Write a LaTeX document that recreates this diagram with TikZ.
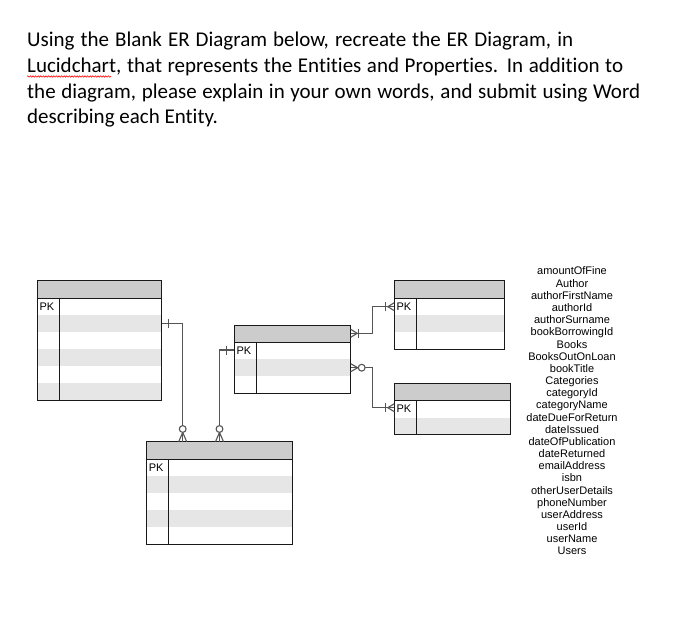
\documentclass[tikz,border=0pt]{standalone}
\usepackage{fontspec}
\setmainfont{Carlito}[Ligatures=NoCommon]
\newfontfamily\arialf{Liberation Sans}
\usetikzlibrary{calc,decorations.pathmorphing}
\definecolor{hdr}{HTML}{CCCCCC}
\definecolor{rowg}{HTML}{E6E6E6}
\definecolor{lnk}{HTML}{555555}
\tikzset{
 tblline/.style={draw=black!90, line width=1pt},
 conn/.style={draw=lnk, line width=1.1pt},
 pklabel/.style={font=\arialf\fontsize{11}{12}\selectfont, inner sep=0, anchor=west},
 heading/.style={font=\fontsize{21}{25}\selectfont, inner sep=0, anchor=base west},
 attr/.style={font=\arialf\fontsize{11}{12}\selectfont, inner sep=0, anchor=base},
}
\newcommand\ertable[6]{%
 \pgfmathsetmacro\erh{17.3+#5*17}%
 \fill[hdr] (#2,#3) rectangle ++(#4,17.3);
 \foreach \r in {1,...,#5}{\ifodd\r\else\fill[rowg] (#2,{#3+17.3+(\r-1)*17}) rectangle ++(#4,17);\fi}
 \draw[tblline] (#2,#3+17.3) -- ++(#4,0);
 \draw[tblline] (#2+#6,#3+17.3) -- (#2+#6,#3+\erh);
 \node[tblline, anchor=north west, minimum width=#4pt, minimum height=\erh pt, inner sep=0, outer sep=0] (#1) at (#2,#3) {};
 \node[pklabel] (#1pk) at (#2+2,#3+17.3+8.5) {PK};
}
\begin{document}
\begin{tikzpicture}[x=1pt,y=-1pt]
\fill[white] (0,0) rectangle (690,617);
\useasboundingbox (0,0) rectangle (690,617);

% heading
\node[heading] (h1) at (27,47) {\makebox[546pt][s]{Using the Blank ER Diagram below, recreate the ER Diagram, in}};
\node[heading] (h2) at (27,73) {\makebox[596pt][s]{Lucidchart, that represents the Entities and Properties. In addition to}};
\node[heading] (h3) at (27,98.5) {\makebox[613pt][s]{the diagram, please explain in your own words, and submit using Word}};
\node[heading] (h4) at (27,124) {describing each Entity.};
\draw[red, line width=0.6pt, decorate, decoration={snake, amplitude=0.7pt, segment length=2.6pt}] (27,76.5) -- (111,76.5);

% tables
\ertable{t1}{37.3}{281}{124.4}{6}{22}
\ertable{t2}{234.3}{325}{116.4}{3}{21.7}
\ertable{t3}{394.3}{281}{109.7}{3}{21.7}
\ertable{t4}{394.3}{383.3}{116.4}{2}{21.7}
\ertable{t5}{146.7}{441.7}{146}{5}{21.6}

% connector t1 -> t5
\coordinate (p1) at ([yshift=-42.3pt]t1.north east);
\coordinate (q1) at ([xshift=36pt]t5.north west);
\draw[conn] (p1) -| (q1);
\draw[conn] (p1) ++(7,-4.5) -- ++(0,9);
\draw[conn] (q1) ++(-4,0) -- ++(4,-9.3) -- ++(4,9.3);
\draw[conn, fill=white] (q1) ++(0,-12.7) circle[radius=3.4pt];

% connector t2 -> t5
\coordinate (p2) at ([yshift=-25pt]t2.north west);
\coordinate (q2) at ([xshift=72.8pt]t5.north west);
\draw[conn] (p2) -| (q2);
\draw[conn] (p2) ++(-7.6,-4.5) -- ++(0,9);
\draw[conn] (q2) ++(-4,0) -- ++(4,-9.3) -- ++(4,9.3);
\draw[conn, fill=white] (q2) ++(0,-12.7) circle[radius=3.4pt];

% connector t2 -> t3
\coordinate (p3) at ([yshift=-8.3pt]t2.north east);
\coordinate (q3) at ([yshift=-25.7pt]t3.north west);
\draw[conn] (p3) -- ++(22,0) |- (q3);
\draw[conn] (p3) ++(0,-4) -- ++(6.5,4) -- ++(-6.5,4);
\draw[conn] (p3) ++(8,-4.5) -- ++(0,9);
\draw[conn] (q3) ++(0,-4) -- ++(-6.5,4) -- ++(6.5,4);
\draw[conn] (q3) ++(-8.5,-4.5) -- ++(0,9);

% connector t2 -> t4
\coordinate (p4) at ([yshift=-42.7pt]t2.north east);
\coordinate (q4) at ([yshift=-24.4pt]t4.north west);
\draw[conn] (p4) -- ++(22,0) |- (q4);
\draw[conn] (p4) ++(0,-4) -- ++(7,4) -- ++(-7,4);
\draw[conn, fill=white] (p4) ++(11,0) circle[radius=3.4pt];
\draw[conn] (q4) ++(0,-4) -- ++(-6.5,4) -- ++(6.5,4);
\draw[conn] (q4) ++(-8.5,-4.5) -- ++(0,9);

% attribute list
\foreach \t [count=\i from 0] in {amountOfFine,Author,authorFirstName,authorId,authorSurname,bookBorrowingId,Books,BooksOutOnLoan,bookTitle,Categories,categoryId,categoryName,dateDueForReturn,dateIssued,dateOfPublication,dateReturned,emailAddress,isbn,otherUserDetails,phoneNumber,userAddress,userId,userName,Users}
  \node[attr] (a\i) at (572,{275+\i*12.17}) {\t};
\end{tikzpicture}
\end{document}
